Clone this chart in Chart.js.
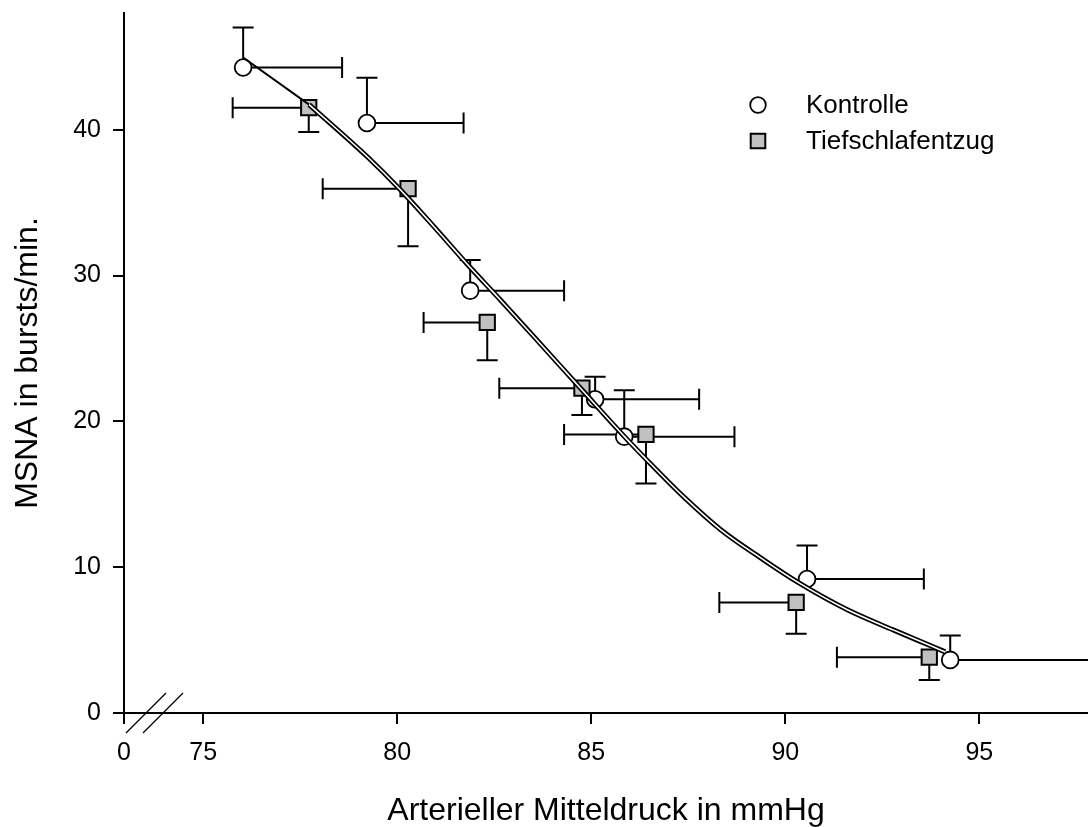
<!DOCTYPE html>
<html><head><meta charset="utf-8">
<script src="https://cdn.jsdelivr.net/npm/chart.js@4.4.0/dist/chart.umd.min.js"></script>
<style>html,body{margin:0;padding:0;background:#fff}#wrap{width:1088px;height:827px}</style>
</head><body><div id="wrap"><canvas id="c" width="1088" height="827"></canvas></div>
<script>
// ---- data ----
const seriesNames = ['Kontrolle', 'Tiefschlafentzug'];
const xTickValues = [75, 80, 85, 90, 95];
const yTickValues = [0, 10, 20, 30, 40];
const xBreakValue = 72.96;      // axis origin shown as "0" (broken axis)
const xBreakLabel = '0';
const xMaxValue = 97.8;
const yMaxValue = 48;
const xTitle = 'Arterieller Mitteldruck in mmHg';
const yTitle = 'MSNA in bursts/min.';

// Kontrolle: mean, error to the right (x) and upward (y)
const kontrolleX    = [76.03, 79.22, 81.88, 85.10, 85.85, 90.56, 94.25];
const kontrolleY    = [44.26, 40.46, 28.96, 21.51, 18.95, 9.19, 3.64];
const kontrolleXErr = [2.55, 2.49, 2.42, 2.68, 2.84, 3.01, 4.60];
const kontrolleYErr = [2.74, 3.10, 2.11, 1.54, 3.18, 2.29, 1.67];

// Tiefschlafentzug: mean, error to the left (x) and downward (y)
const tiefX    = [77.72, 80.28, 82.32, 84.76, 86.41, 90.28, 93.71];
const tiefY    = [41.51, 35.95, 26.78, 22.27, 19.10, 7.58, 3.83];
const tiefXErr = [1.96, 2.20, 1.64, 2.13, 2.11, 1.98, 2.38];
const tiefYErr = [1.67, 3.95, 2.59, 1.84, 3.36, 2.15, 1.56];

// fitted curve (first segment single, rest double line)
const fitSingleX = [76.03, 77.73];
const fitSingleY = [44.95, 41.72];
const fitDoubleX = [77.73, 79.23, 80.08, 80.93, 81.80, 82.66, 83.51, 84.77, 85.85, 86.52, 87.37, 88.33, 89.43, 90.34, 91.60, 92.78, 93.81, 94.12];
const fitDoubleY = [41.72, 38.14, 35.88, 33.40, 30.79, 28.32, 25.84, 22.13, 18.97, 17.11, 14.85, 12.58, 10.52, 8.94, 7.08, 5.70, 4.54, 4.19];

const pts = (xs, ys) => xs.map((x, i) => ({x, y: ys[i]}));

Chart.defaults.font.family = "'Liberation Sans', Arial, Helvetica, sans-serif";
Chart.defaults.color = '#000';

const errorBars = {
  id: 'errorBars',
  beforeDatasetsDraw(chart) {
    const {ctx, chartArea: a, scales: {x, y}} = chart;
    const cap = 10.5;
    ctx.save();
    ctx.beginPath(); ctx.rect(a.left, a.top - 20, a.right - a.left, a.bottom - a.top + 20); ctx.clip();
    ctx.strokeStyle = '#000'; ctx.lineWidth = 2; ctx.lineCap = 'butt';
    const draw = (xs, ys, xe, ye, dir) => {
      xs.forEach((xv, i) => {
        const px = x.getPixelForValue(xv), py = y.getPixelForValue(ys[i]);
        const ex = x.getPixelForValue(xv + dir * xe[i]);
        const ey = y.getPixelForValue(ys[i] + dir * ye[i]);
        ctx.beginPath();
        ctx.moveTo(px, py); ctx.lineTo(ex, py);
        ctx.moveTo(ex, py - cap); ctx.lineTo(ex, py + cap);
        ctx.moveTo(px, py); ctx.lineTo(px, ey);
        ctx.moveTo(px - cap, ey); ctx.lineTo(px + cap, ey);
        ctx.stroke();
      });
    };
    draw(kontrolleX, kontrolleY, kontrolleXErr, kontrolleYErr, 1);
    draw(tiefX, tiefY, tiefXErr, tiefYErr, -1);
    ctx.restore();
  }
};

const extras = {
  id: 'extras',
  afterDraw(chart) {
    const {ctx, chartArea: a} = chart;
    ctx.save();
    // axis break marks
    ctx.strokeStyle = '#000'; ctx.lineWidth = 1.3;
    [[2, 42], [19, 59]].forEach(([s, e]) => {
      ctx.beginPath();
      ctx.moveTo(a.left + s, a.bottom + 20);
      ctx.lineTo(a.left + e, a.bottom - 20);
      ctx.stroke();
    });
    // legend
    const lx = a.left + 634, ly = [a.top + 92, a.top + 128];
    ctx.lineWidth = 1.8;
    ctx.beginPath(); ctx.arc(lx, ly[0], 7.8, 0, Math.PI * 2);
    ctx.fillStyle = '#fff'; ctx.fill(); ctx.stroke();
    ctx.fillStyle = '#c0c0c0'; ctx.lineWidth = 2;
    ctx.beginPath(); ctx.rect(lx - 7.3, ly[1] - 7.3, 14.6, 14.6); ctx.fill(); ctx.stroke();
    ctx.fillStyle = '#000';
    ctx.font = "26px 'Liberation Sans', Arial, sans-serif";
    ctx.textBaseline = 'middle'; ctx.textAlign = 'left';
    ctx.fillText(seriesNames[0], lx + 48, ly[0] + 1);
    ctx.fillText(seriesNames[1], lx + 48, ly[1] + 1);
    ctx.restore();
  }
};

new Chart(document.getElementById('c'), {
  type: 'scatter',
  data: {
    datasets: [
      {label: 'fit core', data: pts(fitDoubleX, fitDoubleY), showLine: true, borderColor: '#fff', borderWidth: 1.6,
       pointRadius: 0, cubicInterpolationMode: 'monotone', order: 0},
      {label: 'fit outline', data: pts(fitDoubleX, fitDoubleY), showLine: true, borderColor: '#000', borderWidth: 5,
       pointRadius: 0, cubicInterpolationMode: 'monotone', order: 1},
      {label: 'fit single', data: pts(fitSingleX, fitSingleY), showLine: true, borderColor: '#000', borderWidth: 2,
       pointRadius: 0, order: 1},
      {label: seriesNames[1], data: pts(tiefX, tiefY), pointStyle: 'rect', pointRadius: 10.8,
       backgroundColor: '#c0c0c0', borderColor: '#000', borderWidth: 2, order: 2},
      {label: seriesNames[0], data: pts(kontrolleX, kontrolleY), pointStyle: 'circle', pointRadius: 8.4,
       backgroundColor: '#fff', borderColor: '#000', borderWidth: 1.8, order: 3}
    ]
  },
  options: {
    responsive: false, animation: false, events: [],
    layout: {autoPadding: false, padding: {top: 13, right: 0, left: 0, bottom: 0}},
    plugins: {legend: {display: false}, tooltip: {enabled: false}},
    scales: {
      x: {
        type: 'linear', min: xBreakValue, max: xMaxValue,
        afterBuildTicks: s => { s.ticks = [xBreakValue, ...xTickValues].map(v => ({value: v})); },
        afterFit: s => { s.height = 114; s.paddingLeft = 0; s.paddingRight = 0; },
        ticks: {font: {size: 25}, padding: 14, callback: v => (v === xBreakValue ? xBreakLabel : String(v))},
        grid: {drawOnChartArea: false, drawTicks: true, tickLength: 11, color: '#000', lineWidth: 2},
        border: {display: true, color: '#000', width: 2},
        title: {display: true, text: xTitle, font: {size: 32, lineHeight: 1}, padding: {top: 0, bottom: 0}}
      },
      y: {
        type: 'linear', min: 0, max: yMaxValue,
        afterBuildTicks: s => { s.ticks = yTickValues.map(v => ({value: v})); },
        afterFit: s => { s.width = 124; s.paddingTop = 0; s.paddingBottom = 0; },
        ticks: {font: {size: 25}, padding: 12},
        grid: {drawOnChartArea: false, drawTicks: true, tickLength: 11, color: '#000', lineWidth: 2},
        border: {display: true, color: '#000', width: 2},
        title: {display: true, text: yTitle, font: {size: 32}, padding: {top: 9, bottom: 0}}
      }
    }
  },
  plugins: [errorBars, extras]
});
</script></body></html>
